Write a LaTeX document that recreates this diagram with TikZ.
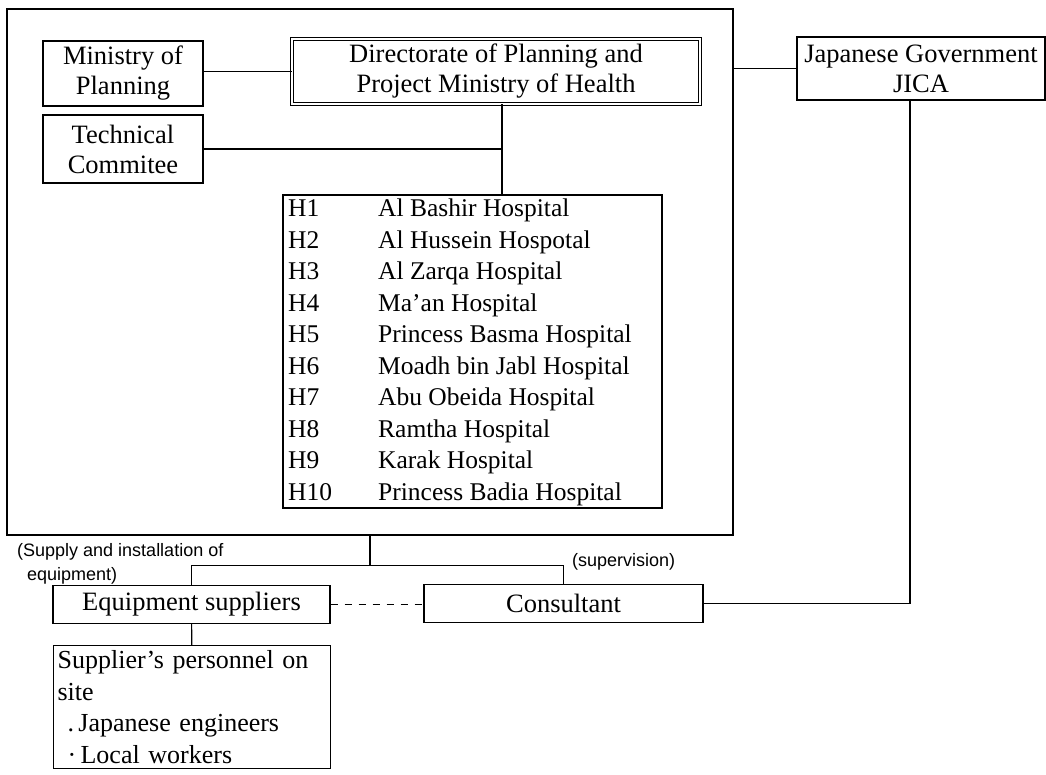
\documentclass[tikz,border=0pt]{standalone}
\usepackage{fontspec}
\setmainfont{Liberation Serif}
\newfontfamily\notefont{Liberation Sans}
\usetikzlibrary{positioning, calc}

\begin{document}
\begin{tikzpicture}[
    x=1pt, y=-1pt,
    box/.style={
        rectangle,
        draw,
        line width=1.2pt,
        align=center,
        inner sep=0pt,
        font=\fontsize{26.5}{30}\selectfont
    },
    headbox/.style={
        box,
        double,
        double distance=2pt,
        line width=1pt
    },
    link/.style={
        line width=1.2pt
    },
    note/.style={
        inner sep=0pt,
        font=\notefont\fontsize{18}{24}\selectfont
    },
    row/.style={
        anchor=base west,
        inner sep=0pt,
        font=\fontsize{25.5}{30}\selectfont
    }
]

\useasboundingbox (0,0) rectangle (1046,775);

% ===== outer frame =====
\node[draw, line width=1.2pt, minimum width=726pt, minimum height=526pt, inner sep=0pt] (frame) at (370,272) {};

% ===== top boxes =====
\node[box, minimum width=160pt, minimum height=65pt] (ministry) at (123,73.5) {Ministry of\\Planning};
\node[headbox, minimum width=408pt, minimum height=65pt] (directorate) at (496,71.5) {Directorate of Planning and\\Project Ministry of Health};
\node[box, minimum width=160pt, minimum height=68pt] (technical) at (123,149) {Technical\\Commitee};
\node[box, minimum width=248pt, minimum height=63pt] (jica) at (921,68.5) {Japanese Government\\JICA};

% ===== hospitals =====
\node[box, minimum width=379pt, minimum height=313pt] (hospitals) at (472.5,351.5) {};
\foreach \code/\name [count=\k] in {H1/Al Bashir Hospital, H2/Al Hussein Hospotal, H3/Al Zarqa Hospital, H4/Ma'an Hospital, H5/Princess Basma Hospital, H6/Moadh bin Jabl Hospital, H7/Abu Obeida Hospital, H8/Ramtha Hospital, H9/Karak Hospital, H10/Princess Badia Hospital} {
    \node[row] (code\k) at (288, {216.5+31.55*(\k-1)}) {\code};
    \node[row] (name\k) at (378, {216.5+31.55*(\k-1)}) {\name};
}

% ===== lower boxes =====
\node[box, minimum width=277pt, minimum height=38pt] (equipment) at (191.5,604.5) {Equipment suppliers};
\node[box, minimum width=279pt, minimum height=38pt] (consultant) at (563.5,603.5) {Consultant};
\node[box, anchor=north west, align=left, text width=269pt, inner xsep=4pt, inner ysep=5pt, font=\fontsize{26}{31.5}\selectfont] (personnel) at (53,645) {Supplier's personnel on\\site\\\hspace*{10pt}.\,Japanese engineers\\\hspace*{10pt}·\,Local workers};

% ===== notes =====
\node[note, anchor=north west, align=left] (supplynote) at (17,543) {(Supply and installation of\\\hspace*{10pt}equipment)};
\node[note, anchor=west] (supervisionnote) at (572,562) {(supervision)};

% ===== connectors =====
\coordinate (branch) at ([xshift=6]directorate.south);
\coordinate (split) at ($(frame.south)+(0,30)$);
\coordinate (jicadrop) at ([xshift=-11]jica.south);

\draw[link] (directorate.west) -- (directorate.west -| ministry.east);
\draw[link] (branch) -- (branch |- hospitals.north);
\draw[link] (technical.east) -- (technical.east -| branch);
\draw[link] (jica.west) -- (jica.west -| frame.east);
\draw[link] (frame.south) -- (split);
\draw[link] (equipment.north) |- (split) -| (consultant.north);
\draw[link, dash pattern=on 7pt off 7pt] (equipment.east) -- (equipment.east -| consultant.west);
\draw[link] (consultant.east) -| (jicadrop);
\draw[link] (equipment) -- (personnel);

\end{tikzpicture}
\end{document}
